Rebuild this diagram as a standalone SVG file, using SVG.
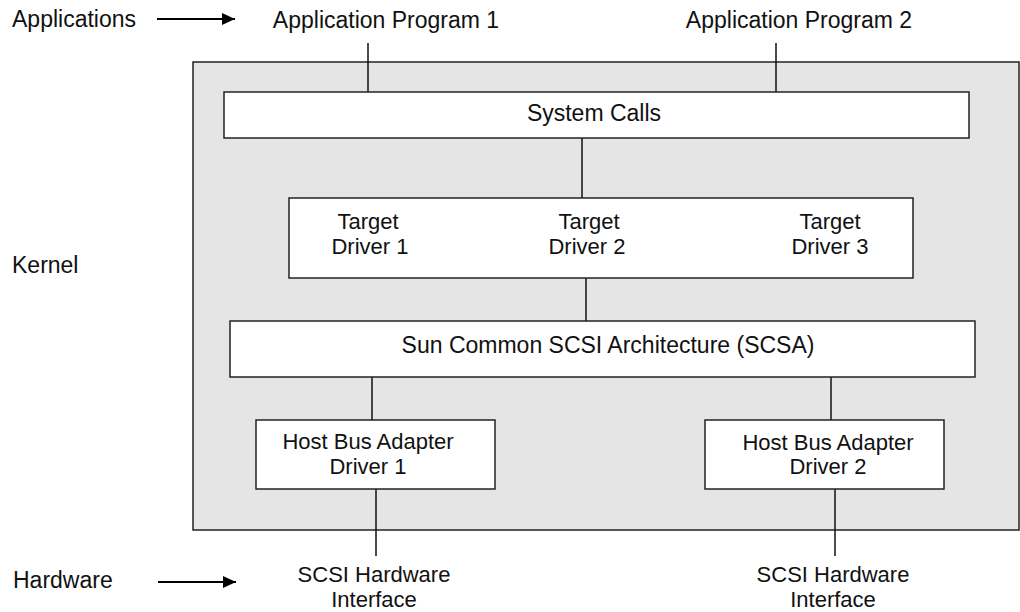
<svg xmlns="http://www.w3.org/2000/svg" width="1020" height="612" viewBox="0 0 1020 612">
<defs>
<marker id="ah" viewBox="0 0 13 12" refX="13" refY="6" markerWidth="13" markerHeight="12" markerUnits="userSpaceOnUse" orient="auto">
<path d="M0,0 L13,6 L0,12 Z" fill="#000"/>
</marker>
</defs>
<style>
text{font-family:"Liberation Sans",Arial,sans-serif;font-size:23px;fill:#111}
.c{text-anchor:middle}
.m{font-size:22px}
.box{fill:#fff;stroke:#222;stroke-width:1.5}
.ln{stroke:#111;stroke-width:1.5;fill:none}
.arr{stroke:#000;stroke-width:2;fill:none}
</style>
<rect id="kernel" x="193" y="62" width="826" height="468" fill="#e5e5e5" stroke="#222" stroke-width="1.5"/>
<text x="12" y="27">Applications</text>
<text x="12" y="273">Kernel</text>
<text x="13" y="588">Hardware</text>
<g id="connectors">
<line class="arr" x1="157" y1="19" x2="235" y2="19" marker-end="url(#ah)"/>
<line class="arr" x1="158" y1="582" x2="236" y2="582" marker-end="url(#ah)"/>
<line class="ln" x1="368" y1="43" x2="368" y2="92"/>
<line class="ln" x1="776" y1="43" x2="776" y2="92"/>
<line class="ln" x1="582" y1="138" x2="582" y2="198"/>
<line class="ln" x1="586" y1="278" x2="586" y2="321"/>
<line class="ln" x1="372" y1="377" x2="372" y2="420"/>
<line class="ln" x1="831" y1="377" x2="831" y2="420"/>
<line class="ln" x1="376" y1="489" x2="376" y2="556"/>
<line class="ln" x1="835" y1="489" x2="835" y2="556"/>
</g>
<g id="app1"><text class="c" x="386" y="28">Application Program 1</text></g>
<g id="app2"><text class="c" x="799" y="28">Application Program 2</text></g>
<g id="syscalls">
<rect class="box" x="224" y="92" width="745" height="46"/>
<text class="c" x="594" y="121">System Calls</text>
</g>
<g id="targets">
<rect class="box" x="289" y="198" width="624" height="80"/>
<text class="c m" x="368" y="229">Target</text>
<text class="c m" x="370" y="253.5">Driver 1</text>
<text class="c m" x="589" y="229">Target</text>
<text class="c m" x="587" y="253.5">Driver 2</text>
<text class="c m" x="830" y="229">Target</text>
<text class="c m" x="830" y="253.5">Driver 3</text>
</g>
<g id="scsa">
<rect class="box" x="230" y="321" width="745" height="56"/>
<text class="c" x="608" y="353">Sun Common SCSI Architecture (SCSA)</text>
</g>
<g id="hba1">
<rect class="box" x="256" y="420" width="239" height="69"/>
<text class="c m" x="368" y="449">Host Bus Adapter</text>
<text class="c m" x="368" y="473.5">Driver 1</text>
</g>
<g id="hba2">
<rect class="box" x="705" y="420" width="239" height="69"/>
<text class="c m" x="828" y="449.5">Host Bus Adapter</text>
<text class="c m" x="828" y="474">Driver 2</text>
</g>
<g id="hw1">
<text class="c m" x="374" y="582">SCSI Hardware</text>
<text class="c m" x="374" y="606.5">Interface</text>
</g>
<g id="hw2">
<text class="c m" x="833" y="582">SCSI Hardware</text>
<text class="c m" x="833" y="606.5">Interface</text>
</g>
</svg>
